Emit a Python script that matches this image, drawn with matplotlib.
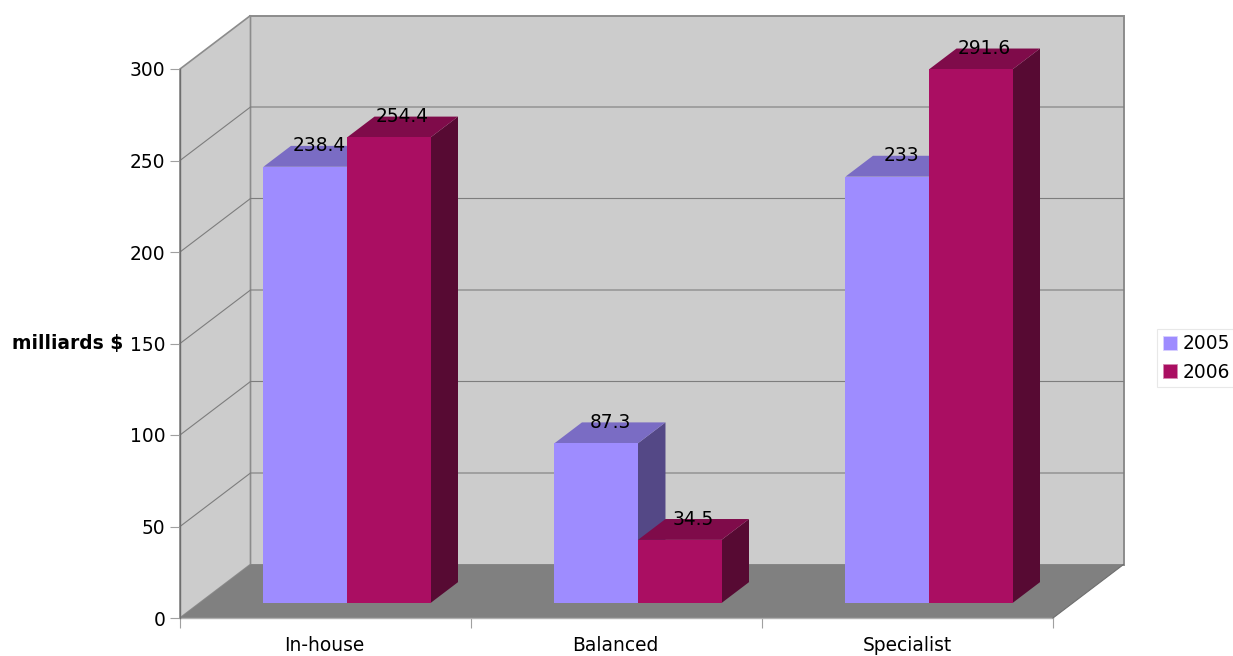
# -*- coding: utf-8 -*-
"""
Fake 3D grouped bar chart: the depth is a shear of the normal 2D axes
"""

import matplotlib
matplotlib.use("Agg")
import matplotlib.pyplot as plt
from matplotlib.patches import Patch, Polygon

categories = ["In-house", "Balanced", "Specialist"]
years = ["2005", "2006"]
v2005 = [238.4, 87.3, 233]
v2006 = [254.4, 34.5, 291.6]
labels2005 = ["238.4", "87.3", "233"]
labels2006 = ["254.4", "34.5", "291.6"]
yticks = [0, 50, 100, 150, 200, 250, 300]

# Depth of whole chart, in axis units
DX = 70.5 / 291.0
DY = 53.5 / 1.83
# Front and back of the bars as fraction of the depth
d0 = 0.28
d1 = 0.67
bw = 0.287
fs = 13.4

face = ["#9e8cff", "#aa0e62"]
top = ["#7a6cc4", "#7f0b4a"]
side = ["#544886", "#570a33"]
line = "#8c8c8c"


def proj(x, y, d):
    return (x + d * DX, y + d * DY)


fig = plt.figure(figsize=(12.33, 6.56), dpi=100)
ax = fig.add_axes([180 / 1233, 38 / 656, 873 / 1233, 549 / 656])
ax.set_xlim(0, 3)
ax.set_ylim(0, 300)
for s in ax.spines.values():
    s.set_visible(False)
ax.patch.set_visible(False)


def poly(pts, fc, ec="none", lw=0.8, z=1):
    ax.add_patch(Polygon(pts, closed=True, fc=fc, ec=ec, lw=lw, zorder=z, clip_on=False))


# Walls and floor
poly([proj(0, 0, 1), proj(3, 0, 1), proj(3, 300, 1), proj(0, 300, 1)], "#cccccc", line, 1.4)
poly([proj(0, 0, 0), proj(0, 0, 1), proj(0, 300, 1), proj(0, 300, 0)], "#cccccc", line, 1.2)
poly([proj(0, 0, 0), proj(3, 0, 0), proj(3, 0, 1), proj(0, 0, 1)], "#808080", "none", z=1.5)

# Grid
for t in yticks[1:-1]:
    x0, y0 = proj(0, t, 0)
    x1, y1 = proj(0, t, 1)
    x2, y2 = proj(3, t, 1)
    ax.plot([x0, x1, x2], [y0, y1, y2], color="#7d7d7d", lw=0.8, zorder=1.2, clip_on=False)
ax.plot([0, 3], [0, 0], color="#b0b0b0", lw=1, zorder=1.6, clip_on=False)
ax.plot([proj(3, 0, 0)[0], proj(3, 0, 1)[0]], [proj(3, 0, 0)[1], proj(3, 0, 1)[1]],
        color="#6e6e6e", lw=0.8, zorder=1.6, clip_on=False)
ax.plot([0, 0], [0, 300], color="#6e6e6e", lw=1.0, zorder=1.6, clip_on=False)

# Bars
for i in range(len(categories)):
    for j, vals in enumerate([v2005, v2006]):
        left = i + 0.506 - bw + j * bw
        right = left + bw
        v = vals[i]
        poly([proj(right, 0, d0), proj(right, 0, d1), proj(right, v, d1), proj(right, v, d0)],
             side[j], z=2 + j)
        poly([proj(left, v, d0), proj(right, v, d0), proj(right, v, d1), proj(left, v, d1)],
             top[j], z=2 + j)
        poly([proj(left, 0, d0), proj(right, 0, d0), proj(right, v, d0), proj(left, v, d0)],
             face[j], z=2 + j)

for i in range(len(categories)):
    for j, (vals, txt) in enumerate([(v2005, labels2005), (v2006, labels2006)]):
        left = i + 0.506 - bw + j * bw
        x = proj(left + bw / 2, 0, (d0 + d1) / 2)[0]
        y = proj(0, vals[i], d1)[1]
        ax.text(x, y, txt[i], ha="center", va="center", fontsize=fs, color="black", zorder=6, clip_on=False)

# Axes ticks
ax.set_yticks(yticks)
ax.set_yticklabels([str(t) for t in yticks], fontsize=fs)
ax.tick_params(axis="y", length=7.5, width=0.8, color="#a0a0a0", pad=3)
ax.set_xticks([0, 1, 2, 3])
ax.set_xticklabels([])
ax.tick_params(axis="x", which="major", length=7.5, width=0.8, color="#a0a0a0")
ax.set_xticks([0.495, 1.495, 2.5], minor=True)
ax.set_xticklabels(categories, minor=True, fontsize=fs)
ax.tick_params(axis="x", which="minor", length=0, pad=13)

fig.text(12 / 1233, 1 - 344 / 656, "milliards $", fontsize=fs, fontweight="bold", va="center", ha="left")

handles = [Patch(fc=face[0], ec="#d8d0ff", lw=0.6), Patch(fc=face[1], ec="#d58ab0", lw=0.6)]
leg = fig.legend(handles, years, loc="center left", bbox_to_anchor=(1157 / 1233, 1 - 358 / 656),
                 fontsize=fs, frameon=True, fancybox=False, framealpha=1, edgecolor="#e8e8e8",
                 borderpad=0.3, labelspacing=0.5, handlelength=0.78, handleheight=0.78,
                 handletextpad=0.3, borderaxespad=0)
leg.get_frame().set_linewidth(0.8)

fig.savefig("out.png", dpi=100)
